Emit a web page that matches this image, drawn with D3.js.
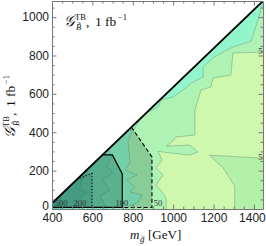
<!DOCTYPE html>
<html>
<head>
<meta charset="utf-8">
<script src="https://cdn.jsdelivr.net/npm/d3@7"></script>
<style>
    body { margin: 0; background: #fff; }
    svg { display: block; font-family: "Liberation Serif", "Times New Roman", serif; }
    .contour { fill: none; stroke: #6f9f7a; stroke-width: 0.7; stroke-opacity: 0.75; }
    .frame .tick text { font-size: 12px; fill: #222; }
    .frame .domain { stroke: #777; }
    .clabel { font-size: 8.5px; fill: #333; text-anchor: middle; }
</style>
</head>
<body>
<svg width="266" height="246"></svg>
<script>
// ticks
var xTicks = [400, 600, 800, 1000, 1200, 1400];
var yTicks = [0, 200, 400, 600, 800, 1000];

// kinematic edge (m_gluino, G)
var diagonal = [[400, 30], [1445, 1084]];

// contour lines, [m_gluino, G]
var line50 = [[1445,818],[1296,813],[1286,698],[1198,683],[1187,636],[1138,620],[1123,568],
    [1108,516],[1108,386],[1013,375],[999,354],[965,328],[1083,333],[1123,297],[1083,281],
    [925,300],[945,255],[915,214],[950,177],[915,125],[945,89],[965,57],[965,0]];
var wedge50 = [[1445,265],[1180,280],[1247,215],[1305,120],[1305,0]];
var line100 = [[1445,1075],[1415,969],[1386,875],[1296,844],[1246,818],[1198,787],[1148,740],
    [1148,688],[1088,656],[1049,620],[999,584],[940,568],[925,531],[866,500],[836,464],
    [800,405],[776,359],[786,240],[762,203],[821,177],[771,151],[811,115],[786,89],
    [846,73],[826,36],[762,0]];
var line150 = [[676,308],[697,276],[672,224],[702,188],[653,151],[687,99],[638,68],[672,0]];
var line200 = [[613,245],[588,214],[554,162],[538,99],[574,83],[524,47],[538,0]];
var line500 = [[447,77],[440,47],[454,0]];

// exclusion regions
var solidRegion = [[400,30],[650,282],[699,282],[748,183],[748,8],[400,8]];
var dashedRegion = [[400,30],[793,427],[895,271],[895,8],[400,8]];
var dottedRegion = [[400,30],[523,154],[598,186],[598,8],[400,8]];

// contour labels [text, m_gluino, G]
var contourLabels = [["500", 445, 14], ["200", 538, 14], ["100", 746, 14], ["50", 925, 18],
    ["50", 1443, 808], ["50", 1443, 256]];

(function() {

    "use strict";

    var svg = d3.select("svg");

    var x = d3.scaleLinear().domain([400, 1445]).range([52, 263]);
    var y = d3.scaleLinear().domain([0, 1084]).range([209, 1]);

    var line = d3.line()
        .x(function(d) { return x(d[0]); })
        .y(function(d) { return y(d[1]); });

    svg.append("clipPath").attr("id", "plot-clip")
        .append("rect")
        .attr("x", x(400)).attr("y", y(1084))
        .attr("width", x(1445) - x(400)).attr("height", y(0) - y(1084));

    var g = svg.append("g").attr("clip-path", "url(#plot-clip)");

    var base = [[400, 0], diagonal[0], diagonal[1], [1445, 0]];
    var region50 = diagonal.concat(line50, [[400, 0]]);
    var region100 = diagonal.concat(line100, [[400, 0]]);
    var region150 = [diagonal[0]].concat(line150, [[400, 0]]);
    var region200 = [diagonal[0]].concat(line200, [[400, 0]]);
    var region500 = [diagonal[0]].concat(line500, [[400, 0]]);

    var fills = [
        [base, "#cdf8ae"],
        [region50, "#aef2b4"],
        [wedge50.concat([[1445, 0]]), "#b4f1a8"],
        [region100, "#93f5cc"],
        [region150, "#86eecb"],
        [region200, "#77e4c6"],
        [region500, "#5fd2c0"]
    ];

    fills.forEach(function(f) {
        g.append("path")
            .attr("d", line(f[0]) + "Z")
            .style("fill", f[1]);
    });

    [line50, wedge50, line100, line150, line200, line500].forEach(function(l) {
        g.append("path").attr("class", "contour").attr("d", line(l));
    });

    // shaded exclusion regions
    g.append("path").attr("d", line(dashedRegion) + "Z").style("fill", "rgba(40,110,80,0.28)");
    g.append("path").attr("d", line(solidRegion) + "Z").style("fill", "rgba(30,100,75,0.28)");
    g.append("path").attr("d", line(dottedRegion) + "Z").style("fill", "rgba(20,90,80,0.15)");

    g.append("path").attr("d", line(dashedRegion.slice(1)))
        .style("fill", "none").style("stroke", "#000").style("stroke-width", 1.1)
        .style("stroke-dasharray", "4,2.5");
    g.append("path").attr("d", line(solidRegion.slice(1)))
        .style("fill", "none").style("stroke", "#000").style("stroke-width", 1.2);
    g.append("path").attr("d", line(dottedRegion.slice(1, 4)))
        .style("fill", "none").style("stroke", "#000").style("stroke-width", 1.2)
        .style("stroke-dasharray", "1.2,2");

    g.append("path").attr("d", line(diagonal))
        .style("fill", "none").style("stroke", "#000").style("stroke-width", 1.8);

    g.selectAll(".clabel")
        .data(contourLabels)
        .enter().append("text")
        .attr("class", "clabel")
        .attr("x", function(d) { return x(d[1]); })
        .attr("y", function(d) { return y(d[2]); })
        .text(function(d) { return d[0]; });

    // frame with inward ticks
    var frame = svg.append("g").attr("class", "frame").attr("color", "#777");
    var xMinor = x.ticks(20).filter(function(v) { return xTicks.indexOf(v) < 0; });
    var yMinor = y.ticks(20).filter(function(v) { return yTicks.indexOf(v) < 0; });
    var fmt = d3.format("d");

    var bottom = frame.append("g").attr("transform", "translate(0," + y(0) + ")")
        .call(d3.axisBottom(x).tickValues(xTicks).tickFormat(fmt).tickSize(-4.5).tickSizeOuter(0).tickPadding(4));
    bottom.selectAll(".tick text").filter(function(d) { return d === 1400; }).attr("dx", -2);

    frame.append("g").attr("transform", "translate(0," + y(1084) + ")")
        .call(d3.axisTop(x).tickValues(xTicks).tickSize(-4.5).tickSizeOuter(0).tickFormat(""));

    var left = frame.append("g").attr("transform", "translate(" + x(400) + ",0)")
        .call(d3.axisLeft(y).tickValues(yTicks).tickFormat(fmt).tickSize(-4.5).tickSizeOuter(0).tickPadding(3));
    left.selectAll(".tick text").filter(function(d) { return d === 0; }).attr("dy", "0.05em");

    frame.append("g").attr("transform", "translate(" + x(1445) + ",0)")
        .call(d3.axisRight(y).tickValues(yTicks).tickSize(-4.5).tickSizeOuter(0).tickFormat(""));

    var minor = frame.append("g");
    minor.append("g").attr("transform", "translate(0," + y(0) + ")")
        .call(d3.axisBottom(x).tickValues(xMinor).tickSize(-2.5).tickFormat(""));
    minor.append("g").attr("transform", "translate(0," + y(1084) + ")")
        .call(d3.axisTop(x).tickValues(xMinor).tickSize(-2.5).tickFormat(""));
    minor.append("g").attr("transform", "translate(" + x(400) + ",0)")
        .call(d3.axisLeft(y).tickValues(yMinor).tickSize(-2.5).tickFormat(""));
    minor.append("g").attr("transform", "translate(" + x(1445) + ",0)")
        .call(d3.axisRight(y).tickValues(yMinor).tickSize(-2.5).tickFormat(""));
    minor.selectAll(".domain").remove();

    // G_B^TB, 1 fb^-1 label
    var gLabel = function(sel) {
        sel.append("tspan").style("font-size", "15px").style("font-style", "italic").text("\uD835\uDCA2");
        sel.append("tspan").attr("x", 11).attr("y", -6.5).style("font-size", "8.5px").text("TB");
        sel.append("tspan").attr("x", 12).attr("y", 3.5).style("font-size", "8.5px")
            .style("font-style", "italic").text("B\u0303");
        sel.append("tspan").attr("x", 22).attr("y", 0).style("font-size", "13.5px").text(",");
        sel.append("tspan").attr("x", 31).attr("y", 0).style("font-size", "13.5px").text("1");
        sel.append("tspan").attr("x", 41).attr("y", 0).style("font-size", "13.5px").text("fb");
        sel.append("tspan").attr("x", 54).attr("y", -6.5).style("font-size", "8.5px").text("\u22121");
    };

    svg.append("g").attr("transform", "translate(64,26)")
        .append("text").attr("x", 0).attr("y", 0).style("fill", "#111").call(gLabel);

    svg.append("g").attr("transform", "translate(15,138) rotate(-90)")
        .append("text").attr("x", 0).attr("y", 0).style("fill", "#111").call(gLabel);

    // x axis title
    var xt = svg.append("text").attr("x", 130).attr("y", 239).style("fill", "#111");
    xt.append("tspan").style("font-size", "13px").style("font-style", "italic").text("m");
    xt.append("tspan").attr("x", 140).attr("y", 242).style("font-size", "9px")
        .style("font-style", "italic").text("g\u0303");
    xt.append("tspan").attr("x", 148).attr("y", 239).style("font-size", "13px").text("[GeV]");

}());
</script>
</body>
</html>
